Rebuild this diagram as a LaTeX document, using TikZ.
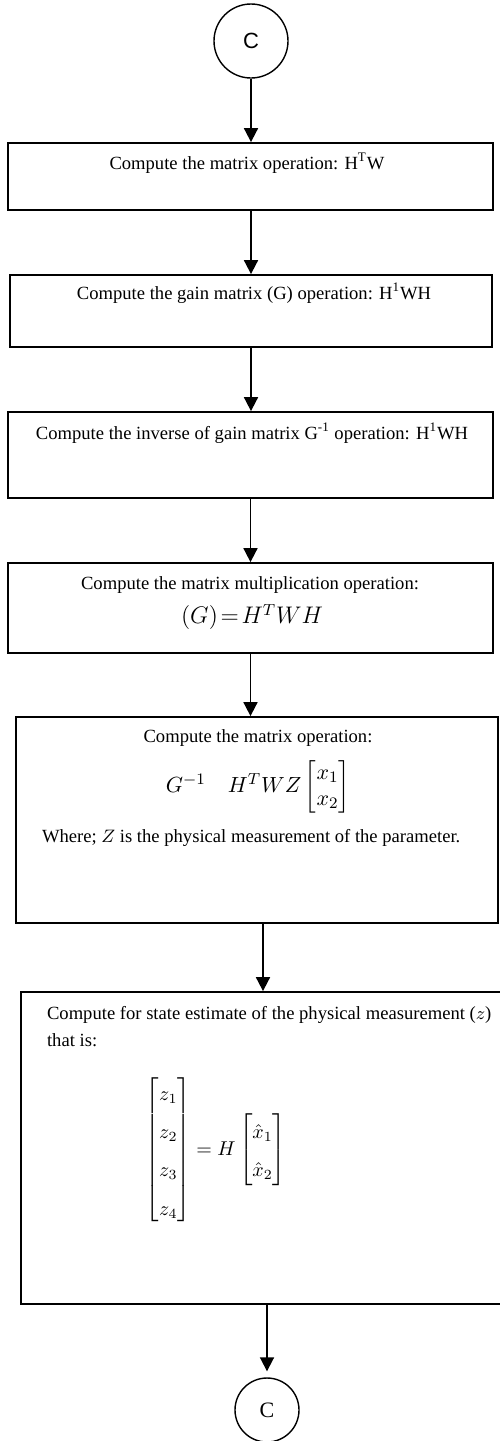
\documentclass[tikz,border=0pt]{standalone}
\usepackage{amsmath}
\usepackage{fontspec}
\setmainfont{Liberation Serif}
\newfontfamily\connfont{Liberation Sans}
\usetikzlibrary{arrows.meta,positioning}

\begin{document}
\begin{tikzpicture}[x=0.5pt, y=-0.5pt,
  font=\fontsize{9.3}{11}\selectfont,
  box/.style={draw, rectangle, line width=0.9pt, inner sep=0pt},
  conn/.style={draw, circle, line width=0.7pt, inner sep=0pt},
  flow/.style={-{Triangle[length=7pt, width=7pt]}, line width=0.9pt}]
  \useasboundingbox (0,0) rectangle (499,1441);

  % connectors and process boxes
  \node[conn, minimum size=37pt, font=\connfont\fontsize{11}{13}\selectfont] (c1) at (251,41) {C};
  \node[box, minimum width=242.5pt, minimum height=33.5pt] (b1) at (250.5,176.5) {};
  \node[box, minimum width=241pt, minimum height=36pt] (b2) at (251,311) {};
  \node[box, minimum width=242.5pt, minimum height=43pt] (b3) at (250.5,455) {};
  \node[box, minimum width=242.5pt, minimum height=45pt] (b4) at (250.5,608) {};
  \node[box, minimum width=241pt, minimum height=103pt] (b5) at (257,820) {};
  \node[box, minimum width=244.5pt, minimum height=156pt] (b6) at (265.5,1148) {};
  \node[conn, minimum size=32pt, font=\fontsize{11}{13}\selectfont] (c2) at (267,1410) {C};

  % box texts
  \node (t1) at (247,163) {Compute the matrix operation: H\textsuperscript{T}W};
  \node (t2) at (254,293) {Compute the gain matrix (G) operation: H\textsuperscript{1}WH};
  \node (t3) at (252,433) {Compute the inverse of gain matrix G\textsuperscript{-1} operation: H\textsuperscript{1}WH};
  \node (t4a) at (250,585) {Compute the matrix multiplication operation:};
  \node[font=\fontsize{12}{14}\selectfont] (t4b) at (252,617) {$(G)\!=\!H^{T}WH$};
  \node (t5a) at (258,738) {Compute the matrix operation:};
  \node[font=\fontsize{11}{13}\selectfont] (t5b) at (258,787) {$G^{-1}\quad H^{T}WZ\begin{bmatrix}x_1\\ x_2\end{bmatrix}$};
  \node[anchor=west] (t5c) at (35,838) {Where; $Z$ is the physical measurement of the parameter.};
  \node[anchor=west] (t6a) at (40,1015) {Compute for state estimate of the physical measurement ($z$)};
  \node[anchor=west] (t6b) at (40,1040) {that is:};
  \node[font=\fontsize{10}{12}\selectfont] (t6c) at (216,1150)
    {\renewcommand{\arraystretch}{1.6}$\begin{bmatrix}z_1\\ z_2\\ z_3\\ z_4\end{bmatrix}=H\begin{bmatrix}\hat{x}_1\\ \hat{x}_2\end{bmatrix}$};

  % flow lines
  \draw[flow] (c1) -- (c1 |- b1.north);
  \draw[flow] (b1.south -| c1) -- (c1 |- b2.north);
  \draw[flow] (b2.south) -- (b2.south |- b3.north);
  \draw[flow] (b3.south) -- (b3.south |- b4.north);
  \draw[flow] (b4.south) -- (b4.south |- b5.north);
  \draw[flow] ([xshift=3pt]b5.south) -- ([xshift=3pt]b5.south |- b6.north);
  \draw[flow, shorten >=3pt] (b6.south -| c2) -- (c2);
\end{tikzpicture}
\end{document}
